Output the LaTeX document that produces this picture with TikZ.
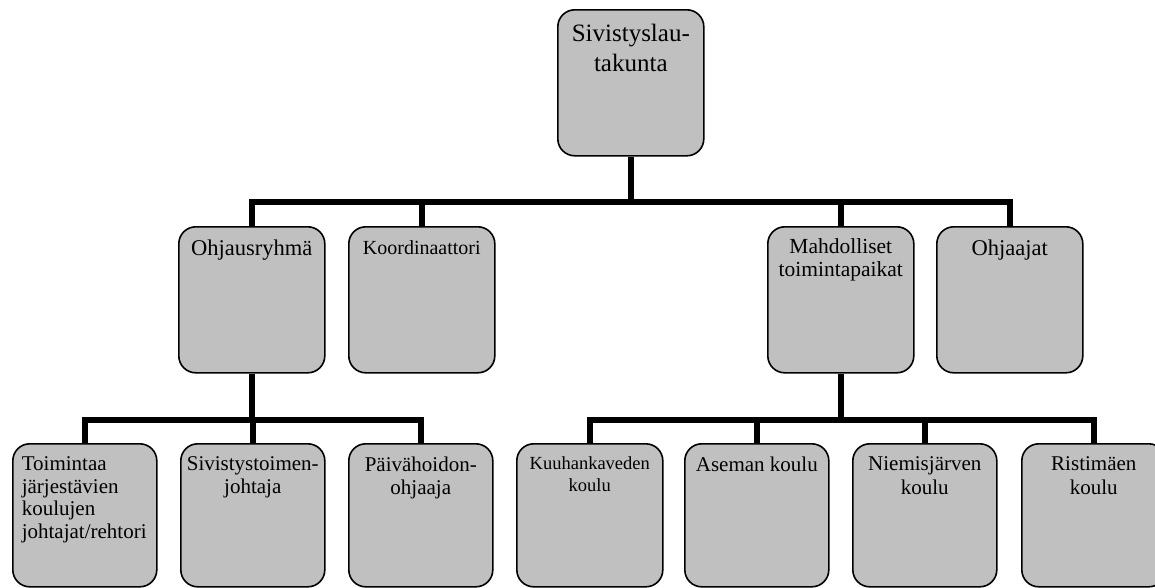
\documentclass[tikz,border=0pt]{standalone}
\usepackage{fontspec}
\setmainfont{Liberation Serif}
\definecolor{boxgray}{HTML}{C0C0C0}
\tikzset{
  orgbox/.style={draw=black, line width=1.6pt, fill=boxgray, rounded corners=17pt, inner sep=0pt, anchor=north west},
  conn/.style={draw=black, line width=6pt, line join=miter}
}
% #1 width, #2 height, #3 top gap, #4 font size, #5 line skip, #6 alignment, #7 text
\newcommand{\boxtxt}[7]{\parbox[t][#2pt][t]{#1pt}{\vspace*{#3pt}#6\fontsize{#4pt}{#5pt}\selectfont #7\par}}
\begin{document}
\begin{tikzpicture}[x=1pt,y=-1pt]
\useasboundingbox (0,0) rectangle (1155,587);
% top
\node[orgbox] (top) at (557,9) {\boxtxt{146}{146}{14}{25}{30}{\centering}{Sivistyslau-\\takunta}};
% middle row
\node[orgbox] (ohj) at (178,226) {\boxtxt{146}{146}{13}{22.5}{24}{\centering}{Ohjausryhmä}};
\node[orgbox] (koord) at (348,226) {\boxtxt{146}{146}{14}{20}{23}{\centering}{Koordinaattori}};
\node[orgbox] (mahd) at (767,226) {\boxtxt{146}{146}{12}{21.5}{23}{\centering}{Mahdolliset\\toimintapaikat}};
\node[orgbox] (ohjaajat) at (936,226) {\boxtxt{146}{146}{13}{22.5}{24}{\centering}{Ohjaajat}};
% bottom row left
\node[orgbox] (toim) at (12,443) {\boxtxt{144}{143}{13}{21}{22.5}{\raggedright\leftskip=9pt}{Toimintaa\\järjestävien\\koulujen\\johtajat/rehtori}};
\node[orgbox] (sivt) at (180,443) {\boxtxt{144}{143}{13}{21}{23}{\centering}{Sivistystoimen-\\johtaja}};
\node[orgbox] (paiv) at (348,443) {\boxtxt{144}{143}{13}{21}{23}{\centering}{Päivähoidon-\\ohjaaja}};
% bottom row right
\node[orgbox] (kuuh) at (516,443) {\boxtxt{146}{143}{12.5}{18.5}{22}{\centering}{Kuuhankaveden\\koulu}};
\node[orgbox] (asem) at (684,443) {\boxtxt{144}{143}{13}{21}{24}{\centering}{Aseman koulu}};
\node[orgbox] (niem) at (852,443) {\boxtxt{144}{143}{13}{21}{24}{\centering}{Niemisjärven\\koulu}};
\node[orgbox] (rist) at (1021,443) {\boxtxt{144}{143}{13}{21}{24}{\centering}{Ristimäen\\koulu}};
% connectors
\coordinate (b1) at (top.south |- 0,202);
\coordinate (b2) at (ohj.south |- 0,420);
\coordinate (b3) at (mahd.south |- 0,420);
\draw[conn] (top.south) -- (b1);
\draw[conn] (ohj.north) |- (b1) -| (ohjaajat.north);
\draw[conn] (b1) -| (koord.north);
\draw[conn] (b1) -| (mahd.north);
\draw[conn] (ohj.south) -- (b2);
\draw[conn] (toim.north) |- (b2) -| (paiv.north);
\draw[conn] (b2) -| (sivt.north);
\draw[conn] (mahd.south) -- (b3);
\draw[conn] (kuuh.north) |- (b3) -| (rist.north);
\draw[conn] (b3) -| (asem.north);
\draw[conn] (b3) -| (niem.north);
\end{tikzpicture}
\end{document}
